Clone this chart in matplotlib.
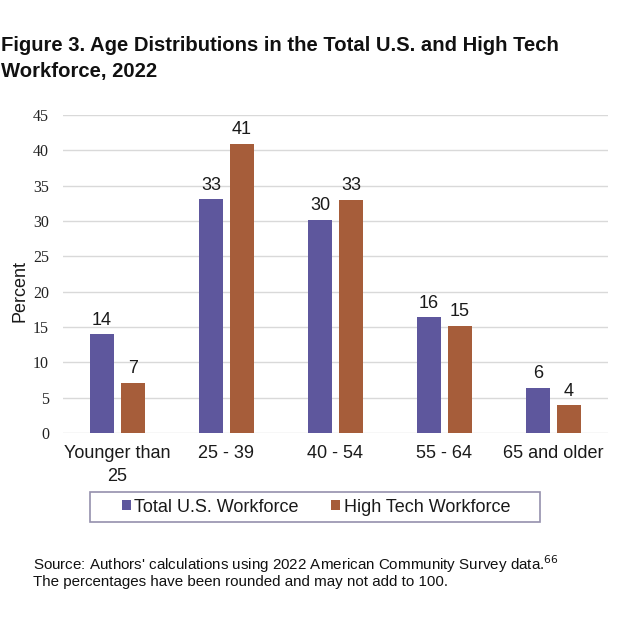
import matplotlib
matplotlib.use("Agg")
import matplotlib.pyplot as plt
import matplotlib.patches as mpatches
import numpy as np

categories = ["Younger than\n25", "25 - 39", "40 - 54", "55 - 64", "65 and older"]
total_us = [13.95, 33.1, 30.2, 16.4, 6.4]
high_tech = [7.1, 40.9, 33.0, 15.2, 3.9]
total_labels = ["14", "33", "30", "16", "6"]
tech_labels = ["7", "41", "33", "15", "4"]
series_names = ["Total U.S. Workforce", "High Tech Workforce"]
yticks = [0, 5, 10, 15, 20, 25, 30, 35, 40, 45]
title_lines = ["Figure 3. Age Distributions in the Total U.S. and High Tech", "Workforce, 2022"]
note_lines = ["Source: Authors' calculations using 2022 American Community Survey data.$^{66}$",
              "The percentages have been rounded and may not add to 100."]

c_total = "#5E579D"
c_tech = "#A65D3A"
sans = ["Liberation Sans", "DejaVu Sans"]
serif = ["Liberation Serif", "DejaVu Serif"]

fig = plt.figure(figsize=(6.21, 6.21), dpi=100)
fig.patch.set_facecolor("white")
ax = fig.add_axes([0.1014, 0.3027, 0.8776, 0.5121])

x = np.arange(len(categories))
w = 0.22
off = 0.142
b1 = ax.bar(x - off, total_us, width=w, color=c_total, label=series_names[0], zorder=3)
b2 = ax.bar(x + off, high_tech, width=w, color=c_tech, label=series_names[1], zorder=3)
ax.bar_label(b1, labels=total_labels, padding=4, fontsize=13, family=sans, color="#1a1a1a")
ax.bar_label(b2, labels=tech_labels, padding=4, fontsize=13, family=sans, color="#1a1a1a")

ax.set_xlim(-0.5, len(categories) - 0.5)
ax.set_ylim(0, 45)
ax.set_yticks(yticks)
ax.set_yticklabels([str(t) for t in yticks], family=serif, fontsize=11.5, color="#222222")
ax.set_xticks(x)
ax.set_xticklabels(categories, family=sans, fontsize=13, color="#1a1a1a", linespacing=1.45)
ax.tick_params(axis="y", length=0, pad=10)
ax.tick_params(axis="x", length=0, pad=8.5)
ax.grid(axis="y", color="#d9d9d9", linewidth=1.0, zorder=0)
for s in ax.spines.values():
    s.set_visible(False)

fig.text(20 / 621, 1 - 291 / 621, "Percent", rotation=90, ha="center", va="center",
         fontsize=13, family=sans, color="#1a1a1a")

for i, (line, ybase) in enumerate(zip(title_lines, [51, 77])):
    fig.text(1 / 621, 1 - ybase / 621, line, ha="left", va="baseline", fontsize=14.6,
             fontweight="bold", family=sans, color="#111111")

leg = fig.legend(handles=[b1, b2], labels=series_names, loc="center",
                 bbox_to_anchor=(316 / 621, 1 - 507 / 621), ncol=2, frameon=False,
                 prop={"family": sans, "size": 13}, handlelength=0.5, handleheight=0.5,
                 handletextpad=0.2, columnspacing=1.8)
for t in leg.get_texts():
    t.set_color("#1a1a1a")
rect = mpatches.Rectangle((90 / 621, 1 - 522 / 621), 450 / 621, 30 / 621,
                          transform=fig.transFigure, fill=False, edgecolor="#9590ad",
                          linewidth=1.2)
fig.add_artist(rect)

for line, yc in zip(note_lines, [564, 582]):
    fig.text(33 / 621, 1 - yc / 621, line, ha="left", va="center", fontsize=10.9,
             family=sans, color="#111111")

fig.savefig("out.png", dpi=100, facecolor="white")
